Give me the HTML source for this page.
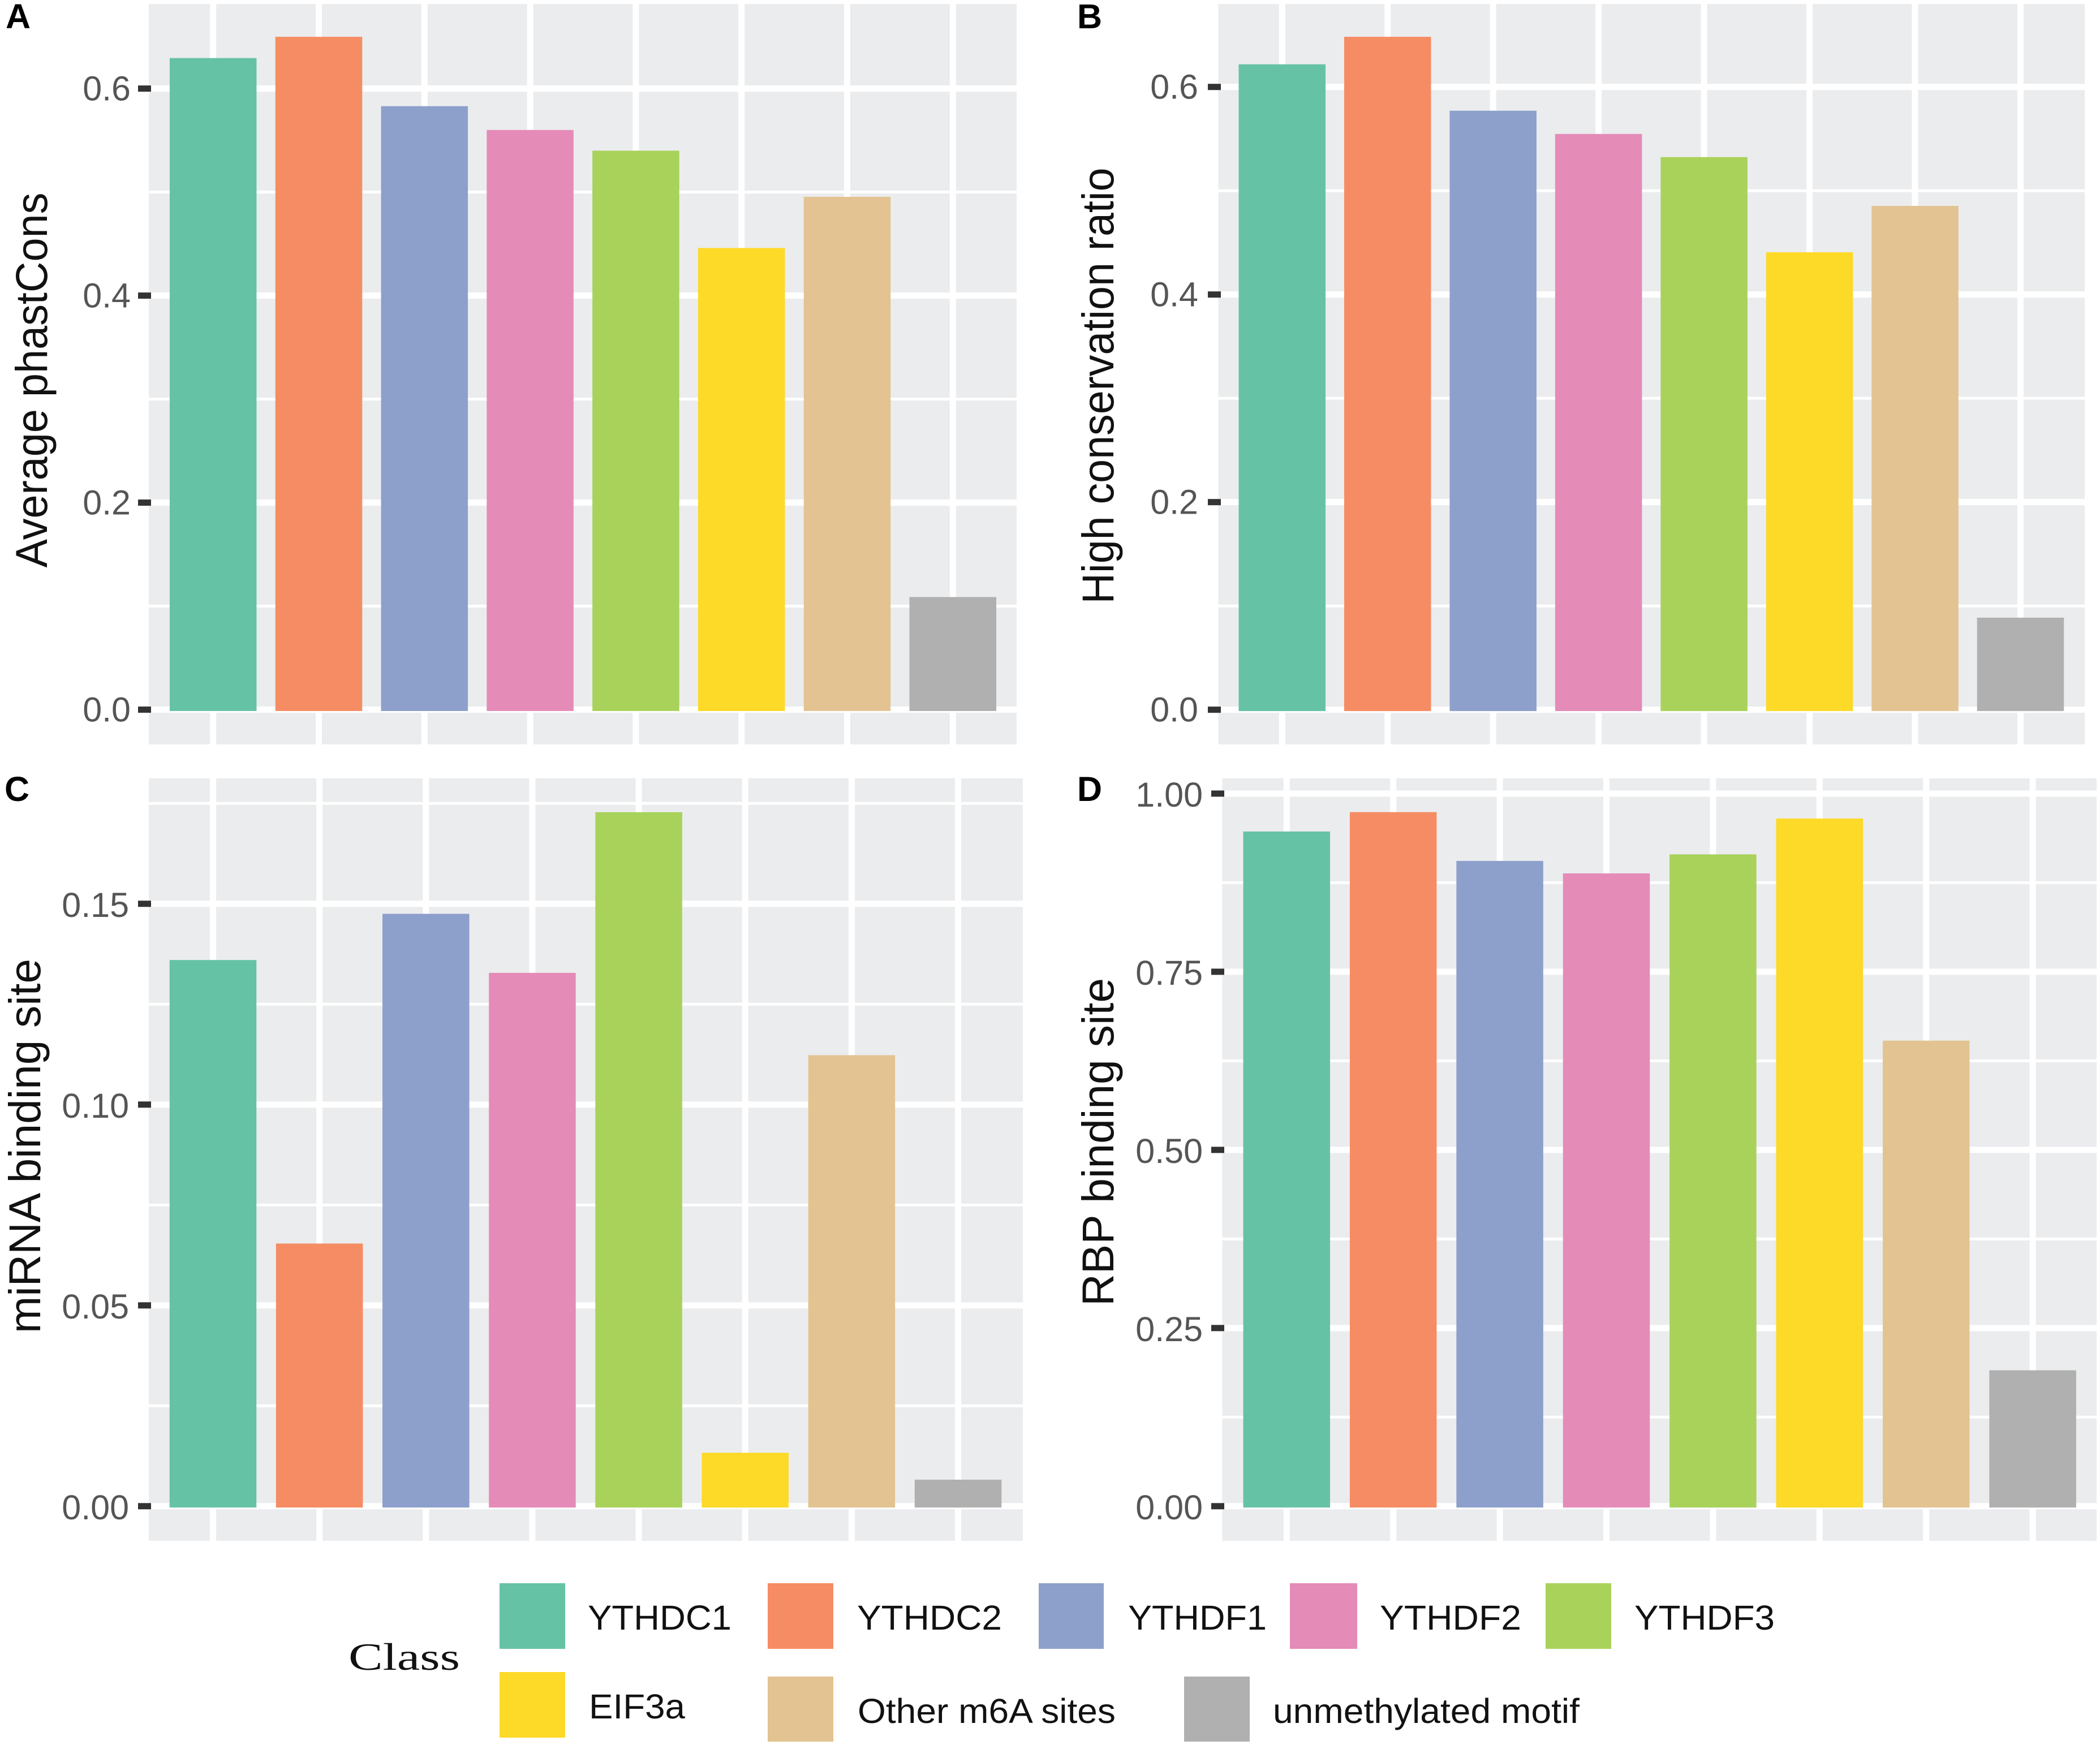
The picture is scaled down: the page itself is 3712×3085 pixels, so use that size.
<!DOCTYPE html>
<html lang="en">
<head>
<meta charset="utf-8">
<title>Conservation and binding site bar charts</title>
<style>
html,body{margin:0;padding:0;background:#fff;width:3712px;height:3085px;overflow:hidden}
svg{display:block}
text{font-family:"Liberation Sans",Arial,sans-serif}
.tick{font-size:61px;fill:#555555}
.title{font-size:79px;fill:#111}
.tag{font-size:61px;font-weight:bold;fill:#000}
.lg{font-size:61px;fill:#111}
</style>
</head>
<body>
<svg id="figure" xmlns="http://www.w3.org/2000/svg" width="3712" height="3085" viewBox="0 0 3712 3085">
  <rect x="0" y="0" width="3712" height="3085" fill="#ffffff"/>
  <g id="panels"></g>
  <g>
    <text x="616" y="2952" font-size="68" textLength="197" lengthAdjust="spacingAndGlyphs" style="font-family:'Liberation Serif',serif;fill:#111">Class</text>
    <rect x="883" y="2799" width="116" height="116" fill="#66c2a5"/>
    <text class="lg" x="1039" y="2881" textLength="254" lengthAdjust="spacingAndGlyphs">YTHDC1</text>
    <rect x="1357" y="2799" width="116" height="116" fill="#f68c63"/>
    <text class="lg" x="1515" y="2881" textLength="256" lengthAdjust="spacingAndGlyphs">YTHDC2</text>
    <rect x="1836" y="2799" width="115" height="116" fill="#8da0cb"/>
    <text class="lg" x="1994" y="2881" textLength="245" lengthAdjust="spacingAndGlyphs">YTHDF1</text>
    <rect x="2280" y="2799" width="119" height="116" fill="#e48bb8"/>
    <text class="lg" x="2439" y="2881" textLength="250" lengthAdjust="spacingAndGlyphs">YTHDF2</text>
    <rect x="2732" y="2799" width="116" height="116" fill="#a8d25a"/>
    <text class="lg" x="2889" y="2881" textLength="248" lengthAdjust="spacingAndGlyphs">YTHDF3</text>
    <rect x="883" y="2956" width="116" height="116" fill="#fdd928"/>
    <text class="lg" x="1041" y="3038" textLength="170" lengthAdjust="spacingAndGlyphs">EIF3a</text>
    <rect x="1357" y="2964" width="116" height="115" fill="#e2c391"/>
    <text class="lg" x="1516" y="3046" textLength="456" lengthAdjust="spacingAndGlyphs">Other m6A sites</text>
    <rect x="2093" y="2964" width="116" height="115" fill="#b0b0b0"/>
    <text class="lg" x="2250" y="3046" textLength="542" lengthAdjust="spacingAndGlyphs">unmethylated motif</text>
  </g>
</svg>
<script>
var categories = ['YTHDC1','YTHDC2','YTHDF1','YTHDF2','YTHDF3','EIF3a','Other m6A sites','unmethylated motif'];
var barColors = ['#66c2a5','#f68c63','#8da0cb','#e48bb8','#a8d25a','#fdd928','#e2c391','#b0b0b0'];

var valuesA = [0.6295,0.650,0.583,0.560,0.540,0.446,0.4954,0.1088];
var valuesB = [0.6218,0.6483,0.5771,0.5547,0.5324,0.4407,0.4854,0.0887];
var valuesC = [0.136,0.0654,0.1475,0.1328,0.1728,0.0133,0.1123,0.0066];
var valuesD = [0.9468,0.974,0.9055,0.888,0.9147,0.965,0.6533,0.1907];

var ticksA = [0,0.2,0.4,0.6];
var tickLabelsA = ['0.0','0.2','0.4','0.6'];
var ticksB = [0,0.2,0.4,0.6];
var tickLabelsB = ['0.0','0.2','0.4','0.6'];
var ticksC = [0,0.05,0.10,0.15];
var tickLabelsC = ['0.00','0.05','0.10','0.15'];
var ticksD = [0,0.25,0.50,0.75,1.00];
var tickLabelsD = ['0.00','0.25','0.50','0.75','1.00'];

var minorsA = [0.1,0.3,0.5];
var minorsB = [0.1,0.3,0.5];
var minorsC = [0.025,0.075,0.125,0.175];
var minorsD = [0.125,0.375,0.625,0.875];

var NS = 'http://www.w3.org/2000/svg';
var panelsRoot = document.getElementById('panels');

function make(parent, tag, attrs, txt) {
  var el = document.createElementNS(NS, tag);
  for (var k in attrs) { el.setAttribute(k, attrs[k]); }
  if (txt !== undefined) { el.textContent = txt; }
  parent.appendChild(el);
  return el;
}

function drawPanel(cfg) {
  var xScale = function (i) { return cfg.x0 + cfg.step * i; };
  var yScale = function (v) { return cfg.y0 - v * cfg.k; };

  var g = make(panelsRoot, 'g', {});
  
  

  var bg = make(g, 'rect', {x: cfg.left, y: cfg.top, width: cfg.right - cfg.left, height: cfg.bottom - cfg.top, fill: '#ebecee'});
  
  

  cfg.minors.forEach(function (v) {
    var line = make(g, 'rect', {x: cfg.left, y: yScale(v) - 2.5, width: cfg.right - cfg.left, height: 5, fill: '#ffffff'});
    
    
  });
  cfg.ticks.forEach(function (v) {
    var line = make(g, 'rect', {x: cfg.left, y: yScale(v) - 5.5, width: cfg.right - cfg.left, height: 11, fill: '#ffffff'});
    
    
  });
  categories.forEach(function (c, i) {
    var line = make(g, 'rect', {x: xScale(i) - 5.5, y: cfg.top, width: 11, height: cfg.bottom - cfg.top, fill: '#ffffff'});
    
    
  });

  cfg.values.forEach(function (v, i) {
    var top = yScale(v);
    var bar = make(g, 'rect', {x: xScale(i) - cfg.barWidth / 2, y: top, width: cfg.barWidth, height: cfg.y0 + 2.4 - top, fill: barColors[i]});
    
    
  });

  cfg.ticks.forEach(function (v, i) {
    var mark = make(g, 'rect', {x: cfg.tickX, y: yScale(v) - 5.5, width: 23, height: 11, fill: '#333333'});
    
    
    var label = make(g, 'text', {'class': 'tick', x: cfg.labelX, y: yScale(v) + cfg.labelDy, 'text-anchor': 'end'}, cfg.tickLabels[i]);
    
    
  });

  var title = make(g, 'text', {
    'class': 'title',
    transform: 'translate(' + cfg.titleX + ',' + cfg.titleY + ') rotate(-90)',
    'text-anchor': 'middle',
    textLength: cfg.titleLen,
    lengthAdjust: 'spacingAndGlyphs'
  }, cfg.title);
  
  

  var tag = make(g, 'text', {'class': 'tag', x: cfg.tagX, y: cfg.tagY}, cfg.id.toUpperCase());
  
  
}

drawPanel({id:'a', values:valuesA, ticks:ticksA, tickLabels:tickLabelsA, minors:minorsA, left:263, right:1797, top:7, bottom:1316, x0:376.7, step:186.8, y0:1254.6, k:1830, barWidth:153.5, tickX:244, labelX:231, labelDy:21, title:'Average phastCons', titleX:83, titleY:672, titleLen:663, tagX:10, tagY:50});
drawPanel({id:'b', values:valuesB, ticks:ticksB, tickLabels:tickLabelsB, minors:minorsB, left:2153.5, right:3685, top:7, bottom:1316, x0:2266.3, step:186.45, y0:1254.7, k:1835, barWidth:153.5, tickX:2135, labelX:2118, labelDy:21, title:'High conservation ratio', titleX:1968, titleY:682, titleLen:771, tagX:1904, tagY:50});
drawPanel({id:'c', values:valuesC, ticks:ticksC, tickLabels:tickLabelsC, minors:minorsC, left:263, right:1808, top:1376, bottom:2724, x0:376.5, step:188.15, y0:2662.8, k:7100, barWidth:153.5, tickX:244, labelX:228, labelDy:23, title:'miRNA binding site', titleX:71, titleY:2026, titleLen:662, tagX:8, tagY:1416});
drawPanel({id:'d', values:valuesD, ticks:ticksD, tickLabels:tickLabelsD, minors:minorsD, left:2160.4, right:3706, top:1376, bottom:2724, x0:2274.3, step:188.4, y0:2662.8, k:1259.8, barWidth:153.5, tickX:2141, labelX:2126, labelDy:23, title:'RBP binding site', titleX:1968, titleY:2019, titleLen:580, tagX:1904, tagY:1416});
</script>
</body>
</html>
